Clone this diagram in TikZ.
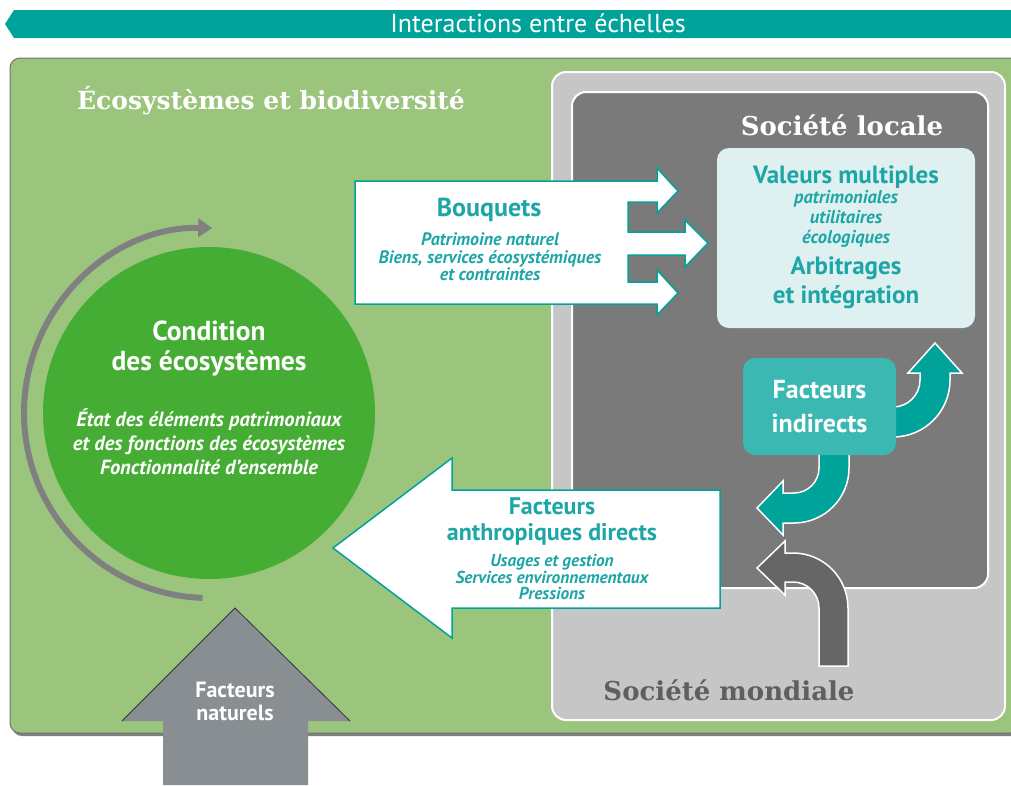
\documentclass[tikz,border=0pt]{standalone}
\usepackage{fontspec}
\usepackage{tikz}
\usetikzlibrary{arrows.meta}
\setmainfont{PT Sans}
\newfontfamily\slabfont{DejaVu Serif}
\definecolor{bandteal}{RGB}{0,163,154}
\definecolor{txtteal}{RGB}{30,166,166}
\definecolor{indteal}{RGB}{59,184,178}
\definecolor{ecolight}{RGB}{155,196,125}
\definecolor{ecogreen}{RGB}{69,172,52}
\definecolor{worldgrey}{RGB}{198,198,198}
\definecolor{localgrey}{RGB}{122,122,122}
\definecolor{arrowgrey}{RGB}{102,102,102}
\definecolor{natgrey}{RGB}{136,142,146}
\definecolor{valbox}{RGB}{223,240,240}
\definecolor{titlegrey}{RGB}{95,95,95}

\begin{document}
\begin{tikzpicture}[x=1pt, y=-1pt,
    big/.style={font=\bfseries\fontsize{25}{28}\selectfont},
    small/.style={font=\bfseries\itshape\fontsize{18}{17.5}\selectfont},
    slab/.style={font=\slabfont\bfseries\fontsize{25}{28}\selectfont}]
                \useasboundingbox (0,0) rectangle (1011,785);

                % Banner
                \fill[bandteal] (5,24) -- (14,10) -- (1011,10) -- (1011,38) -- (14,38) -- cycle;
                \node[text=white, font=\fontsize{26}{28}\selectfont] (band) at (538,23) {Interactions entre échelles};

                % Boxes
                \fill[black!50, rounded corners=10] (12,61) rectangle (1022,736);
                \draw[fill=ecolight, draw=black!55, line width=1, rounded corners=10] (10,58) rectangle (1020,733);
                \draw[fill=worldgrey, draw=white, line width=2, rounded corners=14] (552,72) rectangle (1005,720);
                \draw[fill=localgrey, draw=white, line width=2, rounded corners=14] (572,92) rectangle (988,588);
                \node[text=white, slab] (eco) at (271,101) {Écosystèmes et biodiversité};
                \node[text=white, slab, font=\slabfont\bfseries\fontsize{26}{28}\selectfont] (local) at (842,125) {Société locale};
                \node[text=titlegrey, slab, font=\slabfont\bfseries\fontsize{26}{28}\selectfont] (world) at (729,690) {Société mondiale};

                % Condition
                \node[circle, fill=ecogreen, minimum size=332pt, inner sep=0] (cond) at (209,413) {};
                \draw[line width=6pt, black!50, -{Triangle[length=14pt, width=18pt]}] (cond.center) ++(92:185) arc[start angle=92, end angle=271, radius=185];
                \node[text=white, big, font=\bfseries\fontsize{27.5}{30}\selectfont, align=center] (condt) at (209,348) {Condition\\des écosystèmes};
                \node[text=white, small, font=\bfseries\itshape\fontsize{20.5}{24}\selectfont, align=center] (conds) at (209,442) {État des éléments patrimoniaux\\et des fonctions des écosystèmes\\Fonctionnalité d’ensemble};

                % Bouquets
                \draw[fill=white, draw=bandteal, line width=1.5] (355,181) -- (657,181) -- (657,168) -- (678,191) -- (657,213) -- (657,202) -- (628,202)
                    -- (628,232) -- (685,232) -- (685,220) -- (708,243) -- (685,267) -- (685,255) -- (628,255)
                    -- (628,282) -- (657,282) -- (657,270) -- (678,293) -- (657,315) -- (657,304) -- (355,304) -- cycle;
                \node[text=txtteal, big, font=\bfseries\fontsize{26}{28}\selectfont] (bq) at (489,210) {Bouquets};
                \node[text=txtteal, small, align=center] (bqs) at (490,257) {Patrimoine naturel\\Biens, services écosystémiques\\et contraintes};

                % Facteurs anthropiques directs
                \draw[fill=white, draw=bandteal, line width=1.5] (720,490) -- (452,490) -- (452,458) -- (333,548) -- (452,638) -- (452,608) -- (720,608) -- cycle;
                \node[text=txtteal, big, font=\bfseries\fontsize{24}{26}\selectfont, align=center] (fad) at (552,521) {Facteurs\\anthropiques directs};
                \node[text=txtteal, small, font=\bfseries\itshape\fontsize{17.3}{16.5}\selectfont, align=center] (fads) at (552,577) {Usages et gestion\\Services environnementaux\\Pressions};

                % Valeurs multiples
                \node[fill=valbox, rounded corners=12, minimum width=258pt, minimum height=180pt] (val) at (846,238) {};
                \node[text=txtteal, big] (valt) at (846,177) {Valeurs multiples};
                \node[text=txtteal, small, font=\bfseries\itshape\fontsize{18.5}{20}\selectfont, align=center] (vals) at (846,219) {patrimoniales\\utilitaires\\écologiques};
                \node[text=txtteal, big, font=\bfseries\fontsize{25}{29}\selectfont, align=center] (arb) at (846,283) {Arbitrages\\et intégration};

                % Curved arrows
                \draw[fill=bandteal, draw=white, line width=1.5] (880,407) -- (893,407) arc[start angle=90, end angle=0, radius=27]
                    -- (920,373) -- (908,373) -- (935,343) -- (962,373) -- (950,373) -- (950,380)
                    arc[start angle=0, end angle=90, radius=57] -- (880,437) -- cycle;
                \draw[fill=bandteal, draw=white, line width=1.5] (819,445) -- (819,468) arc[start angle=0, end angle=90, radius=25]
                    -- (783,493) -- (783,481) -- (757,508) -- (783,535) -- (783,523) -- (794,523)
                    arc[start angle=90, end angle=0, radius=55] -- (849,445) -- cycle;
                \draw[fill=arrowgrey, draw=white, line width=1.5] (819,666) -- (819,608) arc[start angle=0, end angle=-90, radius=26]
                    -- (785,582) -- (785,595) -- (757,568) -- (785,541) -- (785,553) -- (793,553)
                    arc[start angle=-90, end angle=0, radius=55] -- (848,666) -- cycle;

                % Facteurs indirects
                \node[fill=indteal, rounded corners=12, minimum width=153pt, minimum height=97pt, text=white, align=center,
                    font=\bfseries\fontsize{26}{34}\selectfont] (ind) at (819.5,406.5) {Facteurs\\indirects};

                % Facteurs naturels
                \fill[natgrey] (163,785) -- (163,721) -- (122,721) -- (235,608) -- (350,721) -- (308,721) -- (308,785) -- cycle;
                \draw[black!80, line width=0.8] (122,721) -- (235,608) -- (350,721);
                \node[text=white, align=center, font=\bfseries\fontsize{22}{23}\selectfont] (nat) at (235,701) {Facteurs\\naturels};
            \end{tikzpicture}
\end{document}
